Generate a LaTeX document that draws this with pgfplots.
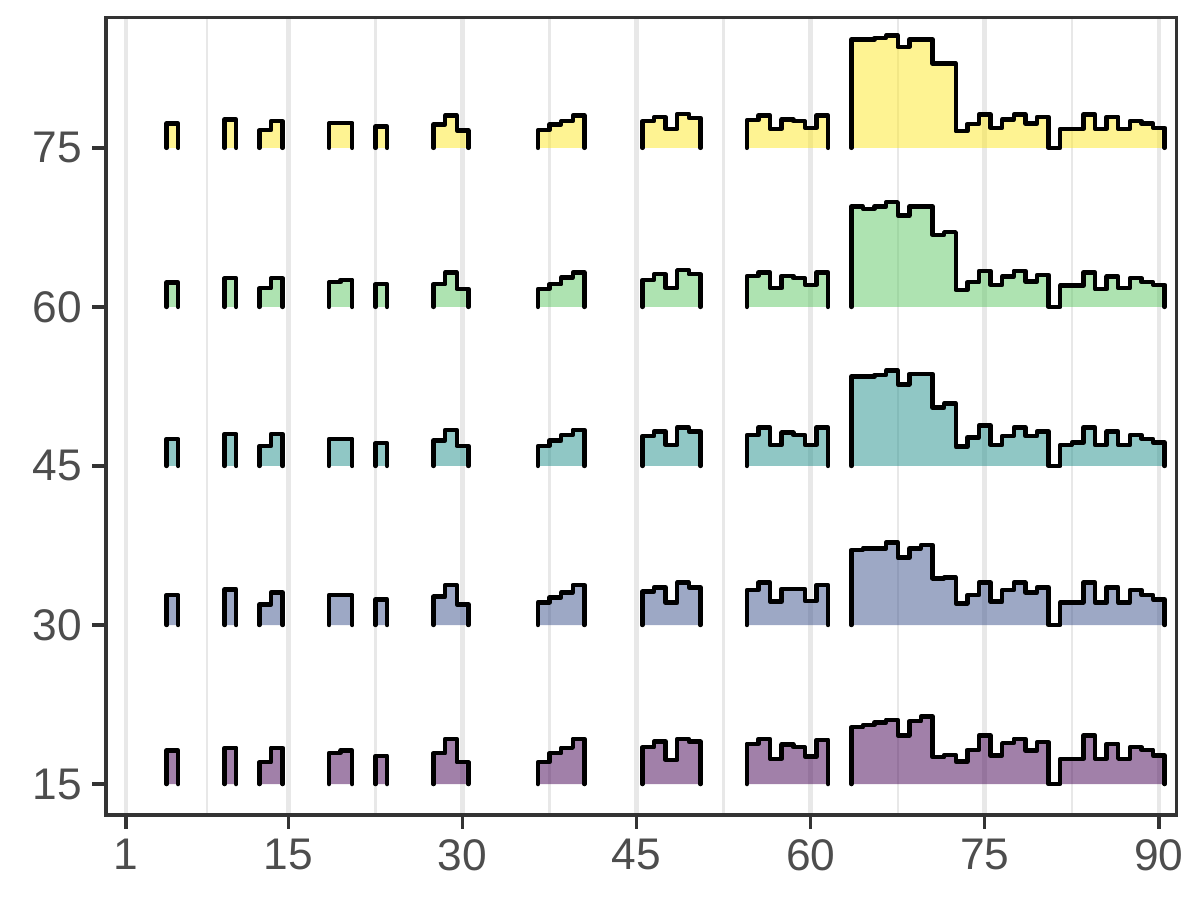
\documentclass[border=0pt]{standalone}
\usepackage{pgfplots}
\pgfplotsset{compat=1.18}
\usepackage{pgfplotstable}
\usepackage{fontspec}
\setmainfont{Liberation Sans}
\definecolor{vP}{HTML}{440154}
\definecolor{vB}{HTML}{3B528B}
\definecolor{vT}{HTML}{21908C}
\definecolor{vG}{HTML}{5DC863}
\definecolor{vY}{HTML}{FDE725}
\definecolor{gridc}{HTML}{E8E8E8}
\definecolor{axc}{HTML}{333333}
\definecolor{labc}{HTML}{4D4D4D}
% bin edges (x) and step heights of each ridge (P=15, B=30, T=45, G=60, Y=75)
\pgfplotstableread{
x P B T G Y
4.5 0 0 0 0 0
4.5 3.16 2.83 2.55 2.30 2.30
5.5 3.16 2.83 2.55 2.30 2.30
5.5 0 0 0 0 0
nan nan nan nan nan nan
9.5 0 0 0 0 0
9.5 3.42 3.36 3.02 2.70 2.67
10.5 3.42 3.36 3.02 2.70 2.67
10.5 0 0 0 0 0
nan nan nan nan nan nan
12.5 0 0 0 0 0
12.5 2.06 1.95 1.89 1.76 1.67
13.5 3.42 3.08 3.02 2.70 2.52
14.5 3.42 3.08 3.02 2.70 2.52
14.5 0 0 0 0 0
nan nan nan nan nan nan
18.5 0 0 0 0 0
18.5 2.94 2.83 2.55 2.33 2.33
19.5 3.16 2.83 2.55 2.55 2.33
20.5 3.16 2.83 2.55 2.55 2.33
20.5 0 0 0 0 0
nan nan nan nan nan nan
22.5 0 0 0 0 0
22.5 2.66 2.42 2.14 2.14 2.01
23.5 2.66 2.42 2.14 2.14 2.01
23.5 0 0 0 0 0
nan nan nan nan nan nan
27.5 0 0 0 0 0
27.5 2.91 2.67 2.39 2.14 2.20
28.5 4.26 3.77 3.40 3.24 3.05
29.5 2.06 1.95 1.89 1.70 1.64
30.5 2.06 1.95 1.89 1.70 1.64
30.5 0 0 0 0 0
nan nan nan nan nan nan
36.5 0 0 0 0 0
36.5 2.06 2.14 1.89 1.70 1.67
37.5 2.91 2.61 2.39 2.14 2.20
38.5 3.42 3.08 2.92 2.77 2.52
39.5 4.26 3.77 3.40 3.24 3.05
40.5 4.26 3.77 3.40 3.24 3.05
40.5 0 0 0 0 0
nan nan nan nan nan nan
45.5 0 0 0 0 0
45.5 3.47 3.14 2.83 2.55 2.52
46.5 4.00 3.55 3.24 3.08 2.89
47.5 2.28 2.11 1.98 1.76 1.79
48.5 4.26 3.99 3.62 3.46 3.21
49.5 4.00 3.55 3.24 3.08 2.83
50.5 4.00 3.55 3.24 3.08 2.83
50.5 0 0 0 0 0
nan nan nan nan nan nan
54.5 0 0 0 0 0
54.5 3.79 3.30 2.92 2.92 2.61
55.5 4.26 3.99 3.62 3.24 3.05
56.5 2.38 2.20 1.98 1.76 1.79
57.5 3.73 3.40 3.14 2.92 2.67
58.5 3.47 3.40 2.92 2.70 2.52
59.5 2.59 2.26 1.98 2.08 1.89
60.5 4.17 3.77 3.62 3.24 3.05
61.5 4.17 3.77 3.62 3.24 3.05
61.5 0 0 0 0 0
nan nan nan nan nan nan
63.5 0 0 0 0 0
63.5 5.36 7.08 8.43 9.47 10.22
64.5 5.58 7.23 8.43 9.25 10.22
65.5 5.80 7.23 8.58 9.47 10.38
66.5 6.06 7.80 8.99 9.87 10.60
67.5 4.58 6.35 7.70 8.62 9.53
68.5 5.92 7.23 8.68 9.47 10.22
69.5 6.37 7.55 8.68 9.47 10.22
70.5 2.53 4.40 5.50 6.79 7.96
71.5 2.75 4.47 5.91 7.04 7.96
72.5 2.12 2.04 1.82 1.60 1.57
73.5 3.23 2.83 2.70 2.33 2.26
74.5 4.58 3.99 3.80 3.40 3.14
75.5 2.69 2.20 1.98 2.08 1.89
76.5 3.85 3.30 2.83 2.86 2.67
77.5 4.26 3.99 3.62 3.40 3.14
78.5 3.16 3.08 2.83 2.39 2.30
79.5 3.94 3.55 3.24 3.02 2.92
80.5 0 0 0 0 0
81.5 2.38 2.14 1.98 2.01 1.79
82.5 2.38 2.14 2.20 2.01 1.79
83.5 4.58 3.99 3.62 3.24 3.14
84.5 2.38 2.11 1.98 1.67 1.79
85.5 3.79 3.55 3.24 2.86 2.92
86.5 2.38 2.11 1.98 1.76 1.79
87.5 3.47 3.30 2.92 2.70 2.52
88.5 3.23 2.83 2.55 2.33 2.30
89.5 2.69 2.42 2.20 2.08 1.89
90.5 2.69 2.42 2.20 2.08 1.89
90.5 0 0 0 0 0
}\ridges
\begin{document}
\begin{tikzpicture}
\useasboundingbox (-38.30pt,-30.71pt) rectangle (395.26pt,294.46pt);
\begin{axis}[
  at={(0pt,0pt)}, anchor=south west,
  scale only axis, width=386.9pt, height=288.0pt,
  xmin=-0.72, xmax=91.55, ymin=12.08, ymax=87.26,
  xtick={1,15,30,45,60,75,90},
  ytick={15,30,45,60,75},
  minor xtick={8,22.5,37.5,52.5,67.5,82.5},
  xmajorgrids, xminorgrids, ymajorgrids=false,
  major grid style={gridc, line width=1.7pt},
  minor grid style={gridc, line width=0.9pt},
  tick align=outside, tick pos=left,
  major tick length=5pt, minor tick length=0pt,
  major tick style={axc, line width=1.2pt},
  axis line style={axc, line width=1.1pt},
  ticklabel style={font=\fontsize{16}{19}\selectfont, text=labc, inner sep=3.6pt},
  /pgf/number format/assume math mode=true,
  unbounded coords=jump,
  every axis plot/.append style={const plot, draw=black, line width=1.6pt,
    line cap=round, line join=round, fill opacity=0.5},
]
\addplot[fill=vY] table[x=x, y expr=\thisrow{Y}+75] {\ridges};
\addplot[fill=vG] table[x=x, y expr=\thisrow{G}+60] {\ridges};
\addplot[fill=vT] table[x=x, y expr=\thisrow{T}+45] {\ridges};
\addplot[fill=vB] table[x=x, y expr=\thisrow{B}+30] {\ridges};
\addplot[fill=vP] table[x=x, y expr=\thisrow{P}+15] {\ridges};
\end{axis}
\end{tikzpicture}
\end{document}
